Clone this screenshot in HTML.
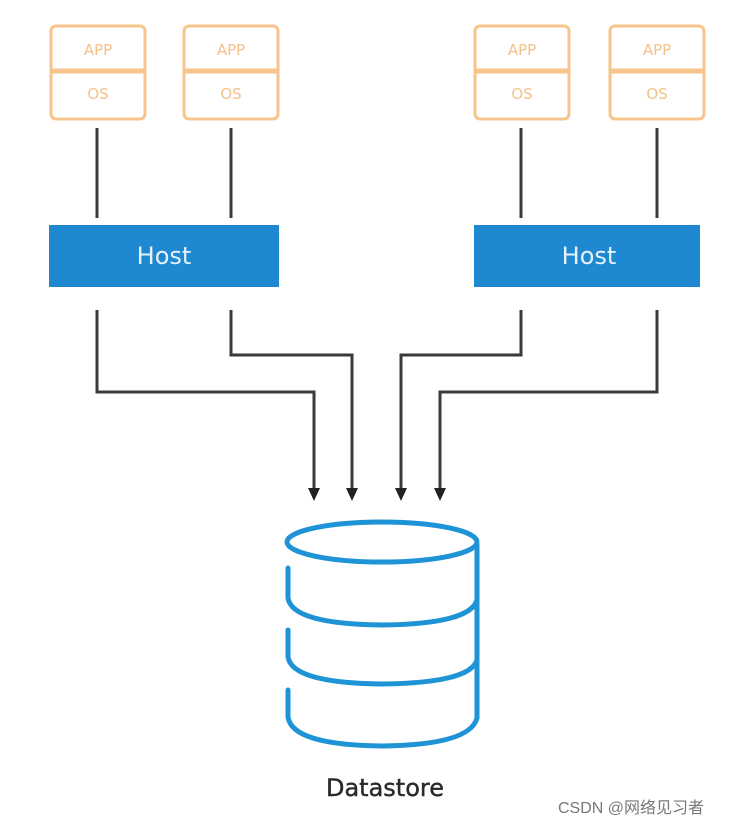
<!DOCTYPE html>
<html><head><meta charset="utf-8"><style>
body{margin:0;background:#fff;}
svg{display:block}
</style></head><body>
<svg width="745" height="825" viewBox="0 0 745 825" xmlns="http://www.w3.org/2000/svg">
<g fill="none" stroke="#f7c58c" stroke-width="3">
<rect x="51" y="26" width="94" height="93" rx="5"/>
<rect x="184" y="26" width="94" height="93" rx="5"/>
<rect x="475" y="26" width="94" height="93" rx="5"/>
<rect x="610" y="26" width="94" height="93" rx="5"/>
</g>
<g stroke="#f7c58c" stroke-width="5">
<line x1="52" y1="71" x2="144" y2="71"/><line x1="185" y1="71" x2="277" y2="71"/>
<line x1="476" y1="71" x2="568" y2="71"/><line x1="611" y1="71" x2="703" y2="71"/>
</g>
<g font-family="DejaVu Sans, Liberation Sans, sans-serif" font-size="15" fill="#f5c089" text-anchor="middle">
<text x="98" y="55">APP</text><text x="98" y="99">OS</text>
<text x="231" y="55">APP</text><text x="231" y="99">OS</text>
<text x="522" y="55">APP</text><text x="522" y="99">OS</text>
<text x="657" y="55">APP</text><text x="657" y="99">OS</text>
</g>
<rect x="49" y="225" width="230" height="62" fill="#1e88d1"/>
<rect x="474" y="225" width="226" height="62" fill="#1e88d1"/>
<g font-family="DejaVu Sans, Liberation Sans, sans-serif" font-size="24" fill="#e6f2fb" text-anchor="middle">
<text x="164" y="264">Host</text><text x="589" y="264">Host</text>
</g>
<g stroke="#3a3a3a" stroke-width="3" fill="none">
<line x1="97" y1="128" x2="97" y2="218"/><line x1="231" y1="128" x2="231" y2="218"/>
<line x1="521" y1="128" x2="521" y2="218"/><line x1="657" y1="128" x2="657" y2="218"/>
<polyline points="97,310 97,392 314,392 314,490"/>
<polyline points="231,310 231,355 352,355 352,490"/>
<polyline points="521,310 521,355 401,355 401,490"/>
<polyline points="657,310 657,392 440,392 440,490"/>
</g>
<g fill="#222">
<path d="M308,488 L320,488 L314,501 z"/>
<path d="M346,488 L358,488 L352,501 z"/>
<path d="M395,488 L407,488 L401,501 z"/>
<path d="M434,488 L446,488 L440,501 z"/>
</g>
<g fill="none" stroke="#1e93d6" stroke-width="5" stroke-linecap="round">
<ellipse cx="382" cy="542" rx="95" ry="20"/>
<line x1="477" y1="545" x2="477" y2="718"/>
<path d="M288,568 L288,598 Q292,624 382,625 Q470,624 477,600"/>
<path d="M288,630 L288,657 Q292,683 382,684 Q470,683 477,660"/>
<path d="M288,690 L288,717 Q292,745 382,746 Q470,745 477,718"/>
</g>
<text x="385" y="796" font-family="DejaVu Sans, Liberation Sans, sans-serif" font-size="24" fill="#2a2a2a" stroke="#2a2a2a" stroke-width="0.4" text-anchor="middle">Datastore</text>
<text x="558" y="813" font-family="Liberation Sans, Noto Sans CJK SC, sans-serif" font-size="16" fill="#777">CSDN @网络见习者</text>
</svg>
</body></html>
